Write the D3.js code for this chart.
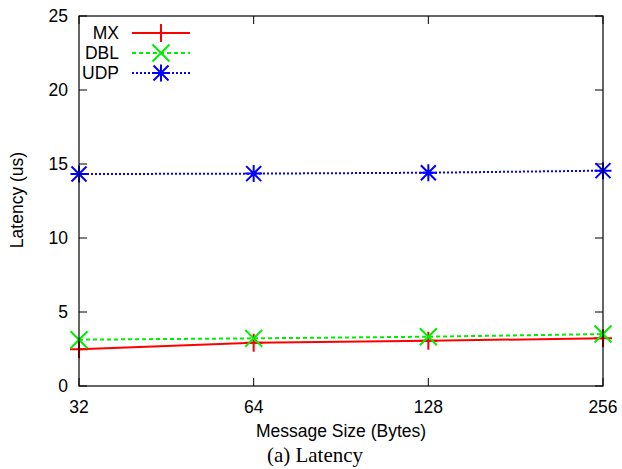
<!DOCTYPE html>
<html>
<head>
<meta charset="utf-8">
<script src="https://cdn.jsdelivr.net/npm/d3@7"></script>
<style>
  body { margin: 0; background: #fff; }
  text { font-family: "Liberation Sans", Arial, sans-serif; }
</style>
</head>
<body>
<div id="chart"></div>
<script>
// message sizes on the x axis
var sizes = [32, 64, 128, 256];
var mx  = [2.48, 2.93, 3.06, 3.22];
var dbl = [3.13, 3.22, 3.33, 3.51];
var udp = [14.32, 14.35, 14.41, 14.55];
var yTicks = [0, 5, 10, 15, 20, 25];

var series = [
  { name: "MX",  values: mx,  color: "#ff0000", dash: null,  marker: "plus" },
  { name: "DBL", values: dbl, color: "#00ee00", dash: "4,3", marker: "cross" },
  { name: "UDP", values: udp, color: "#0000ff", dash: "2,2", marker: "star" }
];

var width = 622, height = 469;
var plotL = 79, plotR = 603, plotT = 16, plotB = 386;
var fs = "17.5px";

var svg = d3.select("#chart").append("svg")
  .attr("width", width).attr("height", height);

var x = d3.scaleLog().base(2).domain([32, 256]).range([plotL, plotR]);
var y = d3.scaleLinear().domain([0, 25]).range([plotB, plotT]);

// draws a gnuplot style point
function marker(g, type, cx, cy, color) {
  var p;
  if (type == "plus") p = "M" + (cx - 9) + "," + cy + "H" + (cx + 9) + "M" + cx + "," + (cy - 9) + "V" + (cy + 9);
  else if (type == "cross") p = "M" + (cx - 8.5) + "," + (cy - 8.5) + "L" + (cx + 8.5) + "," + (cy + 8.5) + "M" + (cx - 8.5) + "," + (cy + 8.5) + "L" + (cx + 8.5) + "," + (cy - 8.5);
  else p = "M" + (cx - 8.5) + "," + cy + "H" + (cx + 8.5) + "M" + cx + "," + (cy - 8.5) + "V" + (cy + 8.5) +
           "M" + (cx - 7.5) + "," + (cy - 7.5) + "L" + (cx + 7.5) + "," + (cy + 7.5) + "M" + (cx - 7.5) + "," + (cy + 7.5) + "L" + (cx + 7.5) + "," + (cy - 7.5);
  g.append("path").attr("d", p).attr("stroke", color).attr("stroke-width", 2).attr("fill", "none");
}

// ticks, mirrored on both sides (inward)
var tk = svg.append("g").attr("stroke", "#000").attr("stroke-width", 1);
yTicks.forEach(function(t) {
  tk.append("line").attr("x1", plotL).attr("x2", plotL + 8).attr("y1", y(t)).attr("y2", y(t));
  tk.append("line").attr("x1", plotR).attr("x2", plotR - 8).attr("y1", y(t)).attr("y2", y(t));
  svg.append("text").attr("x", 68).attr("y", y(t) + 6).attr("text-anchor", "end")
    .style("font-size", fs).text(t);
});
sizes.forEach(function(s) {
  tk.append("line").attr("x1", x(s)).attr("x2", x(s)).attr("y1", plotB).attr("y2", plotB - 8);
  tk.append("line").attr("x1", x(s)).attr("x2", x(s)).attr("y1", plotT).attr("y2", plotT + 8);
  svg.append("text").attr("x", x(s)).attr("y", 413).attr("text-anchor", "middle")
    .style("font-size", fs).text(s);
});

// lines and points
var line = d3.line().x(function(d, i) { return x(sizes[i]); }).y(function(d) { return y(d); });
series.forEach(function(sr) {
  svg.append("path").attr("d", line(sr.values))
    .attr("fill", "none").attr("stroke", sr.color).attr("stroke-width", 2)
    .attr("stroke-dasharray", sr.dash);
  sr.values.forEach(function(v, i) { marker(svg, sr.marker, x(sizes[i]), y(v), sr.color); });
});

// frame
svg.append("rect").attr("x", plotL).attr("y", plotT).attr("width", plotR - plotL).attr("height", plotB - plotT)
  .attr("fill", "none").attr("stroke", "#000").attr("stroke-width", 1.2);

// legend
series.forEach(function(sr, i) {
  var ly = 33 + i * 20;
  svg.append("text").attr("x", 119).attr("y", ly + 6).attr("text-anchor", "end")
    .style("font-size", fs).text(sr.name);
  svg.append("line").attr("x1", 132).attr("x2", 190).attr("y1", ly).attr("y2", ly)
    .attr("stroke", sr.color).attr("stroke-width", 2).attr("stroke-dasharray", sr.dash);
  marker(svg, sr.marker, 161, ly, sr.color);
});

// axis titles
svg.append("text").attr("transform", "translate(23,200) rotate(-90)").attr("text-anchor", "middle")
  .style("font-size", fs).text("Latency (us)");
svg.append("text").attr("x", 341).attr("y", 437).attr("text-anchor", "middle")
  .style("font-size", fs).text("Message Size (Bytes)");
svg.append("text").attr("x", 315).attr("y", 462).attr("text-anchor", "middle")
  .style("font-family", "'Liberation Serif', 'Times New Roman', serif").style("font-size", "21px")
  .text("(a) Latency");
</script>
</body>
</html>
